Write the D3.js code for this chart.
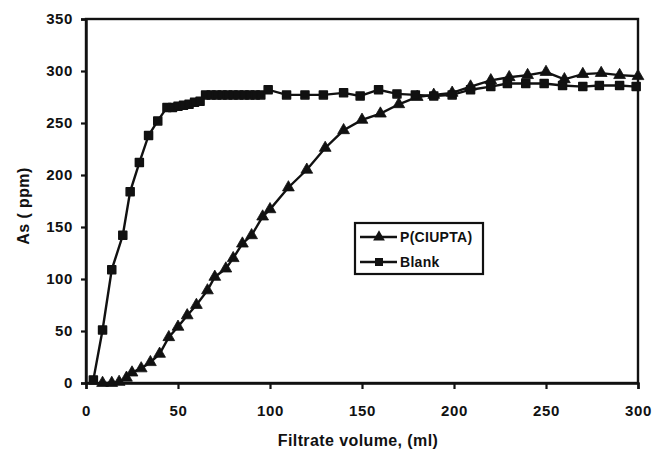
<!DOCTYPE html>
<html>
<head>
<meta charset="utf-8">
<script src="https://cdn.jsdelivr.net/npm/d3@7"></script>
<style>
  html, body { margin: 0; padding: 0; background: #fff; }
  text { font-family: "Liberation Sans", Arial, sans-serif; font-weight: bold; fill: #111; }
</style>
</head>
<body>
<svg id="chart" width="654" height="459"></svg>
<script>
// ---- data ----
const xTicks = [0, 50, 100, 150, 200, 250, 300];
const yTicks = [0, 50, 100, 150, 200, 250, 300, 350];

const blankX = [4, 9, 14, 20, 24, 29, 34, 39, 44, 47, 50, 53, 56, 59, 62, 65, 68, 71, 74, 77, 80, 83, 86, 89, 92, 95, 99, 109, 119, 129, 140, 149, 159, 169, 179, 189, 199, 209, 220, 229, 239, 249, 259, 270, 279, 290, 299];
const blankY = [3, 51, 109, 142, 184, 212, 238, 252, 265, 265, 266, 267, 268, 270, 271, 277, 277, 277, 277, 277, 277, 277, 277, 277, 277, 277, 282, 277, 277, 277, 279, 276, 282, 278, 277, 276, 277, 282, 285, 288, 288, 288, 286, 285, 286, 286, 285];

const polyX = [9, 14, 18, 22, 25, 30, 35, 40, 45, 50, 55, 60, 66, 70, 76, 80, 85, 90, 96, 100, 110, 120, 130, 140, 150, 160, 170, 180, 189, 199, 209, 220, 230, 240, 250, 260, 270, 280, 290, 300];
const polyY = [0, 0, 1, 5, 10, 14, 20, 28, 44, 54, 65, 75, 89, 102, 110, 120, 134, 142, 160, 167, 188, 205, 226, 243, 253, 259, 268, 275, 277, 279, 285, 291, 294, 296, 299, 292, 297, 298, 296, 295];

const seriesNames = ["P(CIUPTA)", "Blank"];
const xTitle = "Filtrate volume, (ml)";
const yTitle = "As ( ppm)";

// ---- layout ----
const svg = d3.select("#chart");
const mLeft = 86, mRight = 638, mTop = 19, mBottom = 383;
const x = d3.scaleLinear().domain([0, 300]).range([mLeft, mRight]);
const y = d3.scaleLinear().domain([0, 350]).range([mBottom, mTop]);
const ink = "#111";

// frame
svg.append("rect").attr("x", mLeft).attr("y", mTop)
  .attr("width", mRight - mLeft).attr("height", mBottom - mTop)
  .attr("fill", "none").attr("stroke", ink).attr("stroke-width", 2.4);

// axes
const xAxis = svg.append("g").attr("transform", `translate(0,${mBottom})`)
  .call(d3.axisBottom(x).tickValues(xTicks).tickSize(6).tickPadding(16).tickFormat(d3.format("d")));
const yAxis = svg.append("g").attr("transform", `translate(${mLeft},0)`)
  .call(d3.axisLeft(y).tickValues(yTicks).tickSize(5).tickPadding(8).tickFormat(d3.format("d")));
[xAxis, yAxis].forEach(g => {
  g.select(".domain").attr("stroke", ink).attr("stroke-width", 2.4);
  g.selectAll(".tick line").attr("stroke", ink).attr("stroke-width", 2.2);
  g.selectAll(".tick text").attr("font-size", 15).attr("letter-spacing", 0.6)
    .attr("font-family", "Liberation Sans, Arial, sans-serif").attr("font-weight", "bold").attr("fill", ink);
});

// titles
svg.append("text").attr("x", 358).attr("y", 446).attr("text-anchor", "middle")
  .attr("font-size", 16).attr("letter-spacing", 0.4).text(xTitle);
svg.append("text").attr("transform", "translate(29,206) rotate(-90)").attr("text-anchor", "middle")
  .attr("font-size", 16).attr("letter-spacing", 0.4).text(yTitle);

// series
const blank = blankX.map((d, i) => [d, blankY[i]]);
const poly = polyX.map((d, i) => [d, polyY[i]]);
const line = d3.line().x(d => x(d[0])).y(d => y(d[1]));

svg.append("path").datum(poly).attr("d", line)
  .attr("fill", "none").attr("stroke", ink).attr("stroke-width", 2.4);
svg.append("path").datum(blank).attr("d", line)
  .attr("fill", "none").attr("stroke", ink).attr("stroke-width", 2.4);

const tri = d3.symbol().type(d3.symbolTriangle).size(60);
const sq = d3.symbol().type(d3.symbolSquare).size(64);

svg.append("g").selectAll("path").data(poly).join("path")
  .attr("d", tri).attr("transform", d => `translate(${x(d[0])},${y(d[1])})`)
  .attr("fill", ink).attr("stroke", ink).attr("stroke-width", 0.8).attr("stroke-linejoin", "round");
svg.append("g").selectAll("path").data(blank).join("path")
  .attr("d", sq).attr("transform", d => `translate(${x(d[0])},${y(d[1])})`)
  .attr("fill", ink).attr("stroke", ink).attr("stroke-width", 1.5).attr("stroke-linejoin", "round");

// legend
const lg = svg.append("g");
lg.append("rect").attr("x", 355).attr("y", 223).attr("width", 128).attr("height", 51)
  .attr("fill", "#fff").attr("stroke", ink).attr("stroke-width", 2.2);
const rows = [{name: seriesNames[0], sym: tri, yy: 237}, {name: seriesNames[1], sym: sq, yy: 262}];
rows.forEach(r => {
  lg.append("line").attr("x1", 360).attr("x2", 397).attr("y1", r.yy).attr("y2", r.yy)
    .attr("stroke", ink).attr("stroke-width", 2.4);
  lg.append("path").attr("d", r.sym).attr("transform", `translate(379,${r.yy})`).attr("fill", ink);
  lg.append("text").attr("x", 400).attr("y", r.yy + 5).attr("font-size", 14).attr("letter-spacing", 0.3).text(r.name);
});
</script>
</body>
</html>
